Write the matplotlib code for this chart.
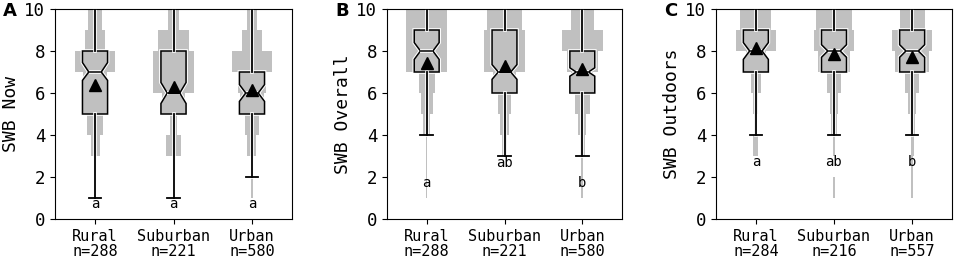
import matplotlib
matplotlib.use("Agg")
import matplotlib.pyplot as plt
import matplotlib.patheffects as pe

# groups and sample sizes per panel
groups = ["Rural", "Suburban", "Urban"]
n_now = [288, 221, 580]
n_overall = [288, 221, 580]
n_outdoors = [284, 216, 557]

ylabels = ["SWB Now", "SWB Overall", "SWB Outdoors"]
panel_tags = ["A", "B", "C"]

# box stats per group: q1, median, q3, lower whisker, upper whisker, mean, notch low, notch high
box_now = [
    (5, 7, 8, 1, 10, 6.4, 6.6, 7.45),
    (5, 6, 8, 1, 10, 6.3, 5.5, 6.5),
    (5, 6, 7, 2, 10, 6.15, 5.6, 6.4),
]
box_overall = [
    (7, 8, 9, 4, 10, 7.45, 7.6, 8.4),
    (6, 7, 9, 3, 10, 7.3, 6.65, 7.35),
    (6, 7, 8, 3, 10, 7.15, 6.8, 7.2),
]
box_outdoors = [
    (7, 8, 9, 4, 10, 8.15, 7.6, 8.4),
    (7, 8, 9, 4, 10, 7.85, 7.7, 8.3),
    (7, 8, 9, 4, 10, 7.7, 7.7, 8.3),
]

# histogram of scores, bins 0-1 ... 9-10, relative to the largest bin
hist_now = [
    [0, .03, .05, .22, .41, .55, .58, 1.0, .51, .32],
    [0, .03, .03, .36, .17, .55, 1.0, 1.0, .78, .25],
    [0, .05, .05, .22, .35, .6, .7, 1.0, .48, .25],
]
hist_overall = [
    [0, .04, .04, .04, .18, .3, .4, 1.0, 1.0, 1.0],
    [0, 0, 0, .14, .22, .32, .55, 1.0, 1.0, .86],
    [0, .05, .05, .12, .2, .37, .54, .78, 1.0, .56],
]
hist_outdoors = [
    [0, 0, 0, .12, .07, .12, .23, .5, 1.0, .77],
    [0, .05, 0, .05, .14, .21, .33, .79, 1.0, .88],
    [0, .05, .05, .07, .12, .21, .33, .83, 1.0, .62],
]

# significance letters and their heights
letters_now = ["a", "a", "a"]
letters_now_y = [0.7, 0.7, 0.7]
letters_overall = ["a", "ab", "b"]
letters_overall_y = [1.7, 2.65, 1.7]
letters_outdoors = ["a", "ab", "b"]
letters_outdoors_y = [2.7, 2.7, 2.7]

panels = [
    (n_now, box_now, hist_now, letters_now, letters_now_y),
    (n_overall, box_overall, hist_overall, letters_overall, letters_overall_y),
    (n_outdoors, box_outdoors, hist_outdoors, letters_outdoors, letters_outdoors_y),
]

gray = "#c0c0c0"
mono = "DejaVu Sans Mono"
halo = [pe.Stroke(linewidth=2.6, foreground="white"), pe.Normal()]

fig = plt.figure(figsize=(9.57, 2.6), dpi=100)
lefts = [55, 387, 716]
widths = [237, 235, 236]

for i, (ns, boxes, hists, lets, lets_y) in enumerate(panels):
    ax = fig.add_axes([lefts[i] / 957, 41 / 260, widths[i] / 957, 210 / 260])
    pos = [1, 2, 3]

    for p, h in zip(pos, hists):
        w = [v * 0.52 for v in h]
        ax.barh([k + 0.5 for k in range(10)], w, height=1.0,
                left=[p - v / 2 for v in w], color=gray, linewidth=0, zorder=1)

    stats = []
    for b in boxes:
        q1, med, q3, lo, hi, mean, cl, ch = b
        stats.append(dict(q1=q1, med=med, q3=q3, whislo=lo, whishi=hi,
                          mean=mean, cilo=cl, cihi=ch, fliers=[]))
    bp = ax.bxp(stats, positions=pos, widths=0.32, shownotches=True,
                showmeans=True, patch_artist=True, showfliers=False,
                boxprops=dict(facecolor=gray, edgecolor="black", linewidth=1.1),
                whiskerprops=dict(color="black", linewidth=1.3),
                capprops=dict(color="black", linewidth=1.3),
                medianprops=dict(color="black", linewidth=1.1),
                meanprops=dict(marker="^", markerfacecolor="black",
                               markeredgecolor="black", markersize=8))
    for art in bp["boxes"] + bp["whiskers"] + bp["medians"]:
        art.set_path_effects(halo)
        art.set_zorder(3)
    for art in bp["caps"]:
        art.set_zorder(3)
    for art in bp["means"]:
        art.set_zorder(4)

    for p, t, ty in zip(pos, lets, lets_y):
        ax.text(p, ty, t, ha="center", va="center", fontsize=10,
                family=mono, zorder=5)

    ax.set_xlim(0.49, 3.51)
    ax.set_ylim(0, 10)
    ax.set_yticks([0, 2, 4, 6, 8, 10])
    ax.set_xticks(pos)
    ax.set_xticklabels([f"{g}\nn={n}" for g, n in zip(groups, ns)],
                       family=mono, fontsize=11, linespacing=1.05)
    for lab in ax.get_yticklabels():
        lab.set_family(mono)
        lab.set_fontsize(12.5)
    ax.set_ylabel(ylabels[i], family=mono, fontsize=13, labelpad=3)
    ax.tick_params(length=3.5, width=0.8)

    fig.text((lefts[i] - 52) / 957, 1 - 16 / 260, panel_tags[i],
             fontsize=13, fontweight="bold", family="DejaVu Sans")

fig.savefig("out.png", dpi=100)
